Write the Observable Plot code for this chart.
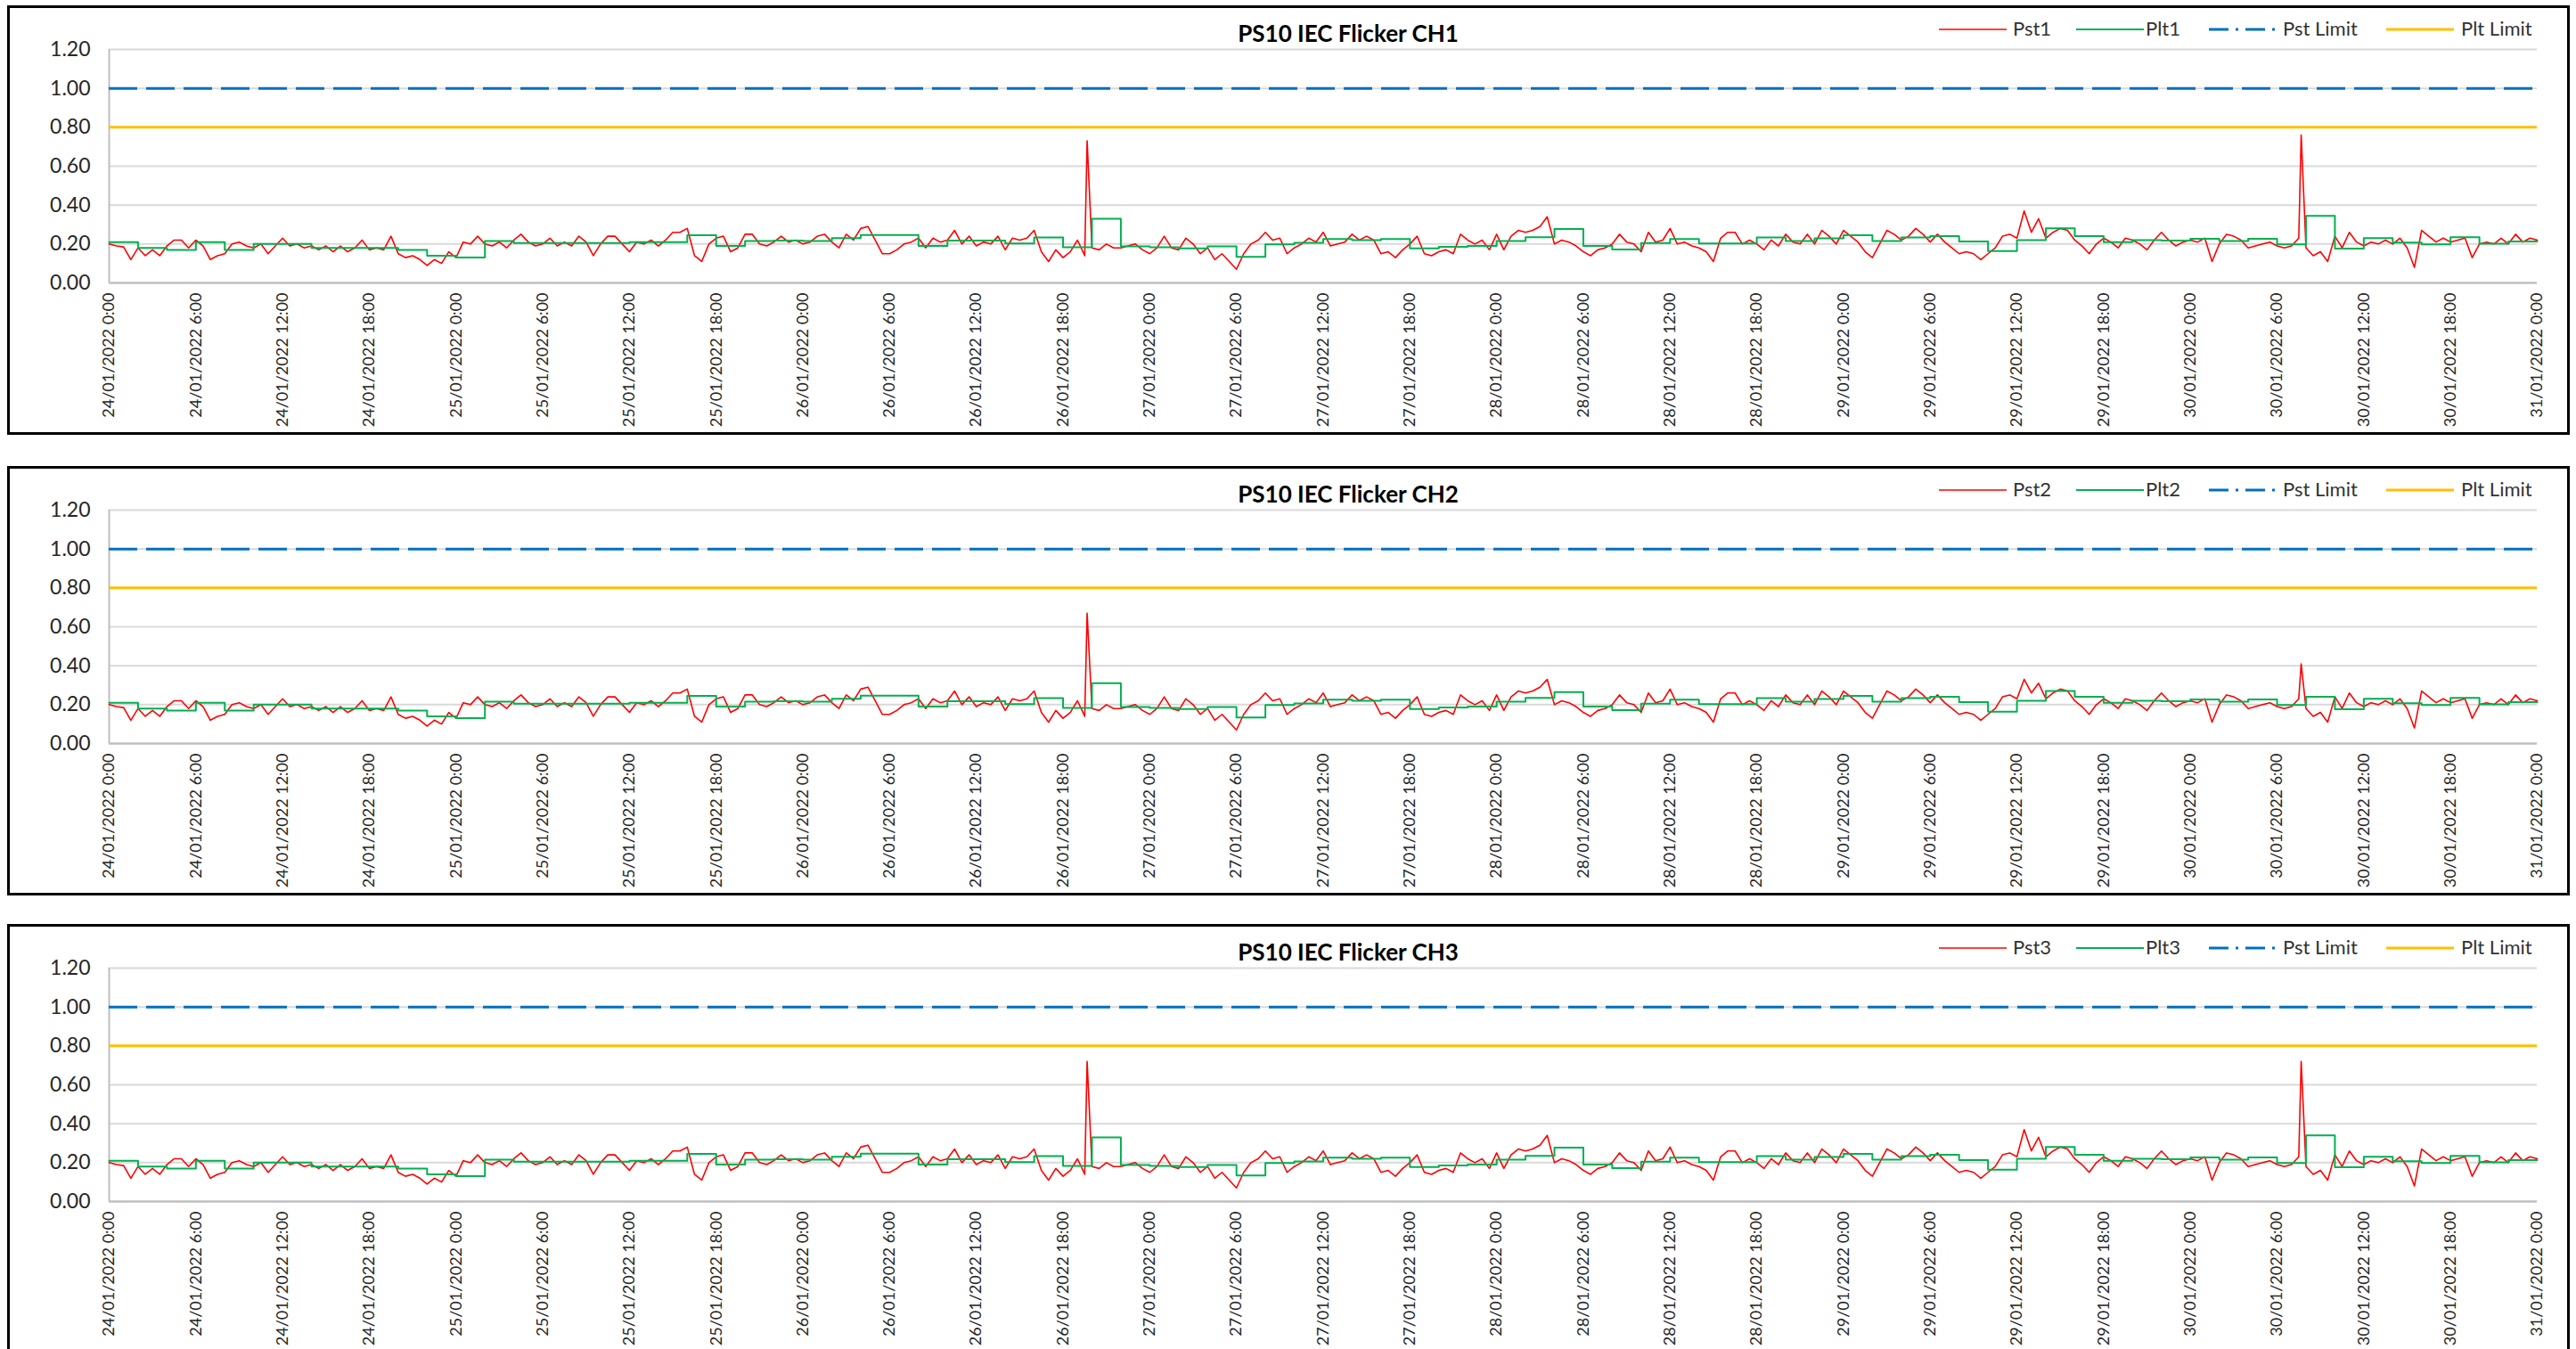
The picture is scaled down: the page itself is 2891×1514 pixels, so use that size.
<!DOCTYPE html>
<html>
<head>
<meta charset="utf-8">
<script src="https://cdn.jsdelivr.net/npm/d3@7"></script>
<script src="https://cdn.jsdelivr.net/npm/@observablehq/plot@0.6"></script>
<style>
  html, body { margin: 0; padding: 0; background: #fff; }
  body { width: 2891px; height: 1514px; overflow: hidden; position: relative; font-family: Lato, "Open Sans", sans-serif; }
  .frame { position: absolute; border: 3px solid #000; box-sizing: border-box; }
  .chart { position: absolute; left: 0; }
  .title { position: absolute; font-weight: 700; font-size: 26px; color: #000; transform: translateX(-50%); white-space: nowrap; }
  .leg { position: absolute; font-size: 22px; color: #333; white-space: nowrap; }
  .leg svg { position: absolute; }
</style>
</head>
<body>
<script>
// ---------------- DATA ----------------
const startTime = "2022-01-24T00:00Z";
const endTime = "2022-01-31T00:00Z";
const titles = ["PS10 IEC Flicker CH1", "PS10 IEC Flicker CH2", "PS10 IEC Flicker CH3"];
const seriesNames = [["Pst1", "Plt1"], ["Pst2", "Plt2"], ["Pst3", "Plt3"]];
const limitNames = ["Pst Limit", "Plt Limit"];
const pstLimit = 1.0;
const pltLimit = 0.8;
const yTicks = [0, 0.2, 0.4, 0.6, 0.8, 1.0, 1.2];

// Pst, 30-minute samples from 24/01/2022 0:00 to 31/01/2022 0:00
const pst1 = [
0.20,0.19,0.185,0.12,0.18,0.14,0.17,0.14,0.19,0.22,0.22,0.18,0.22,0.19,0.12,0.14,0.15,0.20,0.21,0.19,
0.18,0.20,0.15,0.19,0.23,0.19,0.20,0.18,0.19,0.17,0.19,0.16,0.19,0.16,0.18,0.22,0.17,0.18,0.17,0.24,
0.15,0.13,0.14,0.12,0.09,0.12,0.10,0.16,0.13,0.21,0.20,0.24,0.20,0.19,0.21,0.18,0.22,0.25,0.21,0.19,
0.20,0.23,0.19,0.21,0.19,0.24,0.21,0.14,0.20,0.24,0.24,0.20,0.16,0.21,0.20,0.22,0.19,0.22,0.26,0.26,
0.28,0.14,0.11,0.20,0.23,0.24,0.16,0.18,0.25,0.25,0.20,0.19,0.21,0.24,0.21,0.22,0.20,0.21,0.24,0.25,
0.21,0.18,0.25,0.22,0.28,0.29,0.22,0.15,0.15,0.17,0.20,0.21,0.23,0.18,0.23,0.21,0.22,0.27,0.20,0.24,
0.19,0.21,0.20,0.24,0.17,0.23,0.22,0.23,0.27,0.16,0.11,0.17,0.13,0.16,0.22,0.14,0.18,0.17,0.20,0.18,
0.18,0.19,0.20,0.17,0.15,0.18,0.24,0.18,0.17,0.23,0.20,0.15,0.18,0.12,0.15,0.11,0.07,0.15,0.20,0.22,
0.26,0.22,0.23,0.15,0.18,0.20,0.23,0.21,0.26,0.19,0.20,0.21,0.25,0.22,0.24,0.22,0.15,0.16,0.13,0.17,
0.20,0.24,0.15,0.14,0.16,0.17,0.15,0.25,0.22,0.20,0.22,0.17,0.25,0.17,0.24,0.27,0.26,0.27,0.29,0.34,
0.20,0.22,0.21,0.19,0.16,0.14,0.17,0.18,0.20,0.25,0.21,0.20,0.16,0.26,0.21,0.22,0.28,0.20,0.21,0.19,
0.18,0.16,0.11,0.23,0.26,0.26,0.20,0.22,0.20,0.17,0.22,0.19,0.25,0.21,0.20,0.25,0.20,0.27,0.24,0.20,
0.27,0.24,0.21,0.16,0.13,0.20,0.27,0.25,0.22,0.24,0.28,0.25,0.21,0.25,0.21,0.18,0.15,0.16,0.15,0.12,
0.15,0.18,0.24,0.25,0.23,0.37,0.26,0.33,0.23,0.26,0.28,0.27,0.22,0.19,0.15,0.20,0.23,0.21,0.18,0.23,
0.22,0.20,0.17,0.22,0.26,0.22,0.19,0.21,0.22,0.21,0.23,0.11,0.20,0.25,0.24,0.22,0.18,0.19,0.20,0.21,
0.19,0.18,0.19,0.23,0.18,0.14,0.16,0.11,0.24,0.18,0.26,0.21,0.19,0.21,0.20,0.22,0.20,0.23,0.18,0.08,
0.27,0.24,0.21,0.23,0.21,0.22,0.23,0.13,0.20,0.21,0.20,0.23,0.20,0.25,0.21,0.23,0.22
];
const pst2 = [
0.20,0.19,0.185,0.12,0.18,0.14,0.17,0.14,0.19,0.22,0.22,0.18,0.22,0.19,0.12,0.14,0.15,0.20,0.21,0.19,
0.18,0.20,0.15,0.19,0.23,0.19,0.20,0.18,0.19,0.17,0.19,0.16,0.19,0.16,0.18,0.22,0.17,0.18,0.17,0.24,
0.15,0.13,0.14,0.12,0.09,0.12,0.10,0.16,0.13,0.21,0.20,0.24,0.20,0.19,0.21,0.18,0.22,0.25,0.21,0.19,
0.20,0.23,0.19,0.21,0.19,0.24,0.21,0.14,0.20,0.24,0.24,0.20,0.16,0.21,0.20,0.22,0.19,0.22,0.26,0.26,
0.28,0.14,0.11,0.20,0.23,0.24,0.16,0.18,0.25,0.25,0.20,0.19,0.21,0.24,0.21,0.22,0.20,0.21,0.24,0.25,
0.21,0.18,0.25,0.22,0.28,0.29,0.22,0.15,0.15,0.17,0.20,0.21,0.23,0.18,0.23,0.21,0.22,0.27,0.20,0.24,
0.19,0.21,0.20,0.24,0.17,0.23,0.22,0.23,0.27,0.16,0.11,0.17,0.13,0.16,0.22,0.14,0.18,0.17,0.20,0.18,
0.18,0.19,0.20,0.17,0.15,0.18,0.24,0.18,0.17,0.23,0.20,0.15,0.18,0.12,0.15,0.11,0.07,0.15,0.20,0.22,
0.26,0.22,0.23,0.15,0.18,0.20,0.23,0.21,0.26,0.19,0.20,0.21,0.25,0.22,0.24,0.22,0.15,0.16,0.13,0.17,
0.20,0.24,0.15,0.14,0.16,0.17,0.15,0.25,0.22,0.20,0.22,0.17,0.25,0.17,0.24,0.27,0.26,0.27,0.29,0.33,
0.20,0.22,0.21,0.19,0.16,0.14,0.17,0.18,0.20,0.25,0.21,0.20,0.16,0.26,0.21,0.22,0.28,0.20,0.21,0.19,
0.18,0.16,0.11,0.23,0.26,0.26,0.20,0.22,0.20,0.17,0.22,0.19,0.25,0.21,0.20,0.25,0.20,0.27,0.24,0.20,
0.27,0.24,0.21,0.16,0.13,0.20,0.27,0.25,0.22,0.24,0.28,0.25,0.21,0.25,0.21,0.18,0.15,0.16,0.15,0.12,
0.15,0.18,0.24,0.25,0.23,0.33,0.26,0.31,0.23,0.26,0.28,0.27,0.22,0.19,0.15,0.20,0.23,0.21,0.18,0.23,
0.22,0.20,0.17,0.22,0.26,0.22,0.19,0.21,0.22,0.21,0.23,0.11,0.20,0.25,0.24,0.22,0.18,0.19,0.20,0.21,
0.19,0.18,0.19,0.23,0.18,0.14,0.16,0.11,0.24,0.18,0.26,0.21,0.19,0.21,0.20,0.22,0.20,0.23,0.18,0.08,
0.27,0.24,0.21,0.23,0.21,0.22,0.23,0.13,0.20,0.21,0.20,0.23,0.20,0.25,0.21,0.23,0.22
];
const pst3 = [
0.20,0.19,0.185,0.12,0.18,0.14,0.17,0.14,0.19,0.22,0.22,0.18,0.22,0.19,0.12,0.14,0.15,0.20,0.21,0.19,
0.18,0.20,0.15,0.19,0.23,0.19,0.20,0.18,0.19,0.17,0.19,0.16,0.19,0.16,0.18,0.22,0.17,0.18,0.17,0.24,
0.15,0.13,0.14,0.12,0.09,0.12,0.10,0.16,0.13,0.21,0.20,0.24,0.20,0.19,0.21,0.18,0.22,0.25,0.21,0.19,
0.20,0.23,0.19,0.21,0.19,0.24,0.21,0.14,0.20,0.24,0.24,0.20,0.16,0.21,0.20,0.22,0.19,0.22,0.26,0.26,
0.28,0.14,0.11,0.20,0.23,0.24,0.16,0.18,0.25,0.25,0.20,0.19,0.21,0.24,0.21,0.22,0.20,0.21,0.24,0.25,
0.21,0.18,0.25,0.22,0.28,0.29,0.22,0.15,0.15,0.17,0.20,0.21,0.23,0.18,0.23,0.21,0.22,0.27,0.20,0.24,
0.19,0.21,0.20,0.24,0.17,0.23,0.22,0.23,0.27,0.16,0.11,0.17,0.13,0.16,0.22,0.14,0.18,0.17,0.20,0.18,
0.18,0.19,0.20,0.17,0.15,0.18,0.24,0.18,0.17,0.23,0.20,0.15,0.18,0.12,0.15,0.11,0.07,0.15,0.20,0.22,
0.26,0.22,0.23,0.15,0.18,0.20,0.23,0.21,0.26,0.19,0.20,0.21,0.25,0.22,0.24,0.22,0.15,0.16,0.13,0.17,
0.20,0.24,0.15,0.14,0.16,0.17,0.15,0.25,0.22,0.20,0.22,0.17,0.25,0.17,0.24,0.27,0.26,0.27,0.29,0.34,
0.20,0.22,0.21,0.19,0.16,0.14,0.17,0.18,0.20,0.25,0.21,0.20,0.16,0.26,0.21,0.22,0.28,0.20,0.21,0.19,
0.18,0.16,0.11,0.23,0.26,0.26,0.20,0.22,0.20,0.17,0.22,0.19,0.25,0.21,0.20,0.25,0.20,0.27,0.24,0.20,
0.27,0.24,0.21,0.16,0.13,0.20,0.27,0.25,0.22,0.24,0.28,0.25,0.21,0.25,0.21,0.18,0.15,0.16,0.15,0.12,
0.15,0.18,0.24,0.25,0.23,0.37,0.26,0.33,0.23,0.26,0.28,0.27,0.22,0.19,0.15,0.20,0.23,0.21,0.18,0.23,
0.22,0.20,0.17,0.22,0.26,0.22,0.19,0.21,0.22,0.21,0.23,0.11,0.20,0.25,0.24,0.22,0.18,0.19,0.20,0.21,
0.19,0.18,0.19,0.23,0.18,0.14,0.16,0.11,0.24,0.18,0.26,0.21,0.19,0.21,0.20,0.22,0.20,0.23,0.18,0.08,
0.27,0.24,0.21,0.23,0.21,0.22,0.23,0.13,0.20,0.21,0.20,0.23,0.20,0.25,0.21,0.23,0.22
];
// Short Pst spikes (10-minute readings between the 30-minute samples)
const pst1Spikes = [["2022-01-26T19:40Z", 0.73], ["2022-01-30T07:40Z", 0.76]];
const pst2Spikes = [["2022-01-26T19:40Z", 0.67], ["2022-01-30T07:40Z", 0.41]];
const pst3Spikes = [["2022-01-26T19:40Z", 0.72], ["2022-01-30T07:40Z", 0.72]];

// Plt, 2-hour values from 24/01/2022 0:00
const plt1 = [
0.21,0.18,0.17,0.21,0.17,0.20,0.20,0.18,0.18,0.18,
0.17,0.14,0.13,0.215,0.205,0.205,0.205,0.205,0.21,0.21,
0.245,0.19,0.215,0.218,0.215,0.23,0.246,0.246,0.19,0.218,
0.218,0.203,0.234,0.183,0.33,0.188,0.183,0.178,0.188,0.134,
0.198,0.206,0.226,0.22,0.226,0.177,0.186,0.19,0.215,0.235,
0.277,0.19,0.172,0.205,0.226,0.203,0.203,0.234,0.215,0.229,
0.245,0.215,0.234,0.24,0.213,0.164,0.22,0.28,0.24,0.209,
0.22,0.218,0.227,0.215,0.227,0.198,0.345,0.176,0.23,0.207,
0.198,0.235,0.202,0.213
];
const plt2 = [
0.21,0.18,0.17,0.21,0.17,0.20,0.20,0.18,0.18,0.18,
0.17,0.14,0.13,0.215,0.205,0.205,0.205,0.205,0.21,0.21,
0.245,0.19,0.215,0.218,0.215,0.23,0.246,0.246,0.19,0.218,
0.218,0.203,0.234,0.183,0.31,0.188,0.183,0.178,0.188,0.134,
0.198,0.206,0.226,0.22,0.226,0.177,0.186,0.19,0.215,0.235,
0.265,0.19,0.172,0.205,0.226,0.203,0.203,0.234,0.215,0.229,
0.245,0.215,0.234,0.24,0.213,0.164,0.22,0.27,0.24,0.209,
0.22,0.218,0.227,0.215,0.227,0.198,0.24,0.176,0.23,0.207,
0.198,0.235,0.202,0.213
];
const plt3 = [
0.21,0.18,0.17,0.21,0.17,0.20,0.20,0.18,0.18,0.18,
0.17,0.14,0.13,0.215,0.205,0.205,0.205,0.205,0.21,0.21,
0.245,0.19,0.215,0.218,0.215,0.23,0.246,0.246,0.19,0.218,
0.218,0.203,0.234,0.183,0.33,0.188,0.183,0.178,0.188,0.134,
0.198,0.206,0.226,0.22,0.226,0.177,0.186,0.19,0.215,0.235,
0.277,0.19,0.172,0.205,0.226,0.203,0.203,0.234,0.215,0.229,
0.245,0.215,0.234,0.24,0.213,0.164,0.22,0.28,0.24,0.209,
0.22,0.218,0.227,0.215,0.227,0.198,0.34,0.176,0.23,0.207,
0.198,0.235,0.202,0.213
];

// ---------------- DRAWING ----------------
const t0 = new Date(startTime), t1 = new Date(endTime);
const fmt = d3.utcFormat("%d/%m/%Y %-H:%M");
const xTicks = d3.utcHour.every(6).range(t0, new Date(+t1 + 1));

const colors = { pst: "#ff0000", plt: "#00b050", pstLim: "#0070c0", pltLim: "#ffc000" };
const panelTops = [7, 524, 1038];
const panels = [
  { pst: pst1, spikes: pst1Spikes, plt: plt1 },
  { pst: pst2, spikes: pst2Spikes, plt: plt2 },
  { pst: pst3, spikes: pst3Spikes, plt: plt3 }
];

function buildPst(vals, spikes) {
  const rows = vals.map((v, k) => ({ t: d3.utcMinute.offset(t0, 30 * k), v }));
  spikes.forEach(([s, v]) => rows.push({ t: new Date(s), v }));
  return rows.sort((a, b) => a.t - b.t);
}
function buildPlt(vals) {
  const rows = vals.map((v, k) => ({ t: d3.utcHour.offset(t0, 2 * k), v }));
  rows.push({ t: t1, v: vals[vals.length - 1] });
  return rows;
}

panels.forEach((p, i) => {
  const top = panelTops[i];
  const frame = document.createElement("div");
  frame.className = "frame";
  Object.assign(frame.style, { left: "8px", top: (top - 1) + "px", width: "2876px", height: "482px" });
  document.body.appendChild(frame);

  const chart = Plot.plot({
    width: 2891, height: 480,
    marginLeft: 122, marginRight: 44, marginTop: 48, marginBottom: 170,
    style: { fontFamily: "Lato, sans-serif", color: "#262626", background: "transparent", overflow: "visible" },
    x: { type: "utc", domain: [t0, t1] },
    y: { domain: [0, 1.2] },
    marks: [
      Plot.ruleY(yTicks.filter(d => d > 0), { stroke: "#d9d9d9", strokeWidth: 2 }),
      Plot.ruleX([t0], { stroke: "#bfbfbf", strokeWidth: 2 }),
      Plot.ruleY([0], { stroke: "#bfbfbf", strokeWidth: 2.5 }),
      Plot.axisY(yTicks, { tickFormat: d3.format(".2f"), tickSize: 0, tickPadding: 21, fontSize: 23, label: null }),
      Plot.axisX(xTicks, { tickFormat: fmt, tickRotate: -90, tickSize: 0, tickPadding: 11, fontSize: 18, label: null }),
      Plot.line(buildPst(p.pst, p.spikes), { x: "t", y: "v", stroke: colors.pst, strokeWidth: 1.6 }),
      Plot.line(buildPlt(p.plt), { x: "t", y: "v", stroke: colors.plt, strokeWidth: 2, curve: "step-after" }),
      Plot.ruleY([pstLimit], { stroke: colors.pstLim, strokeWidth: 3, strokeDasharray: "32,10" }),
      Plot.ruleY([pltLimit], { stroke: colors.pltLim, strokeWidth: 3 })
    ]
  });
  chart.classList.add("chart");
  chart.style.top = top + "px";
  document.body.appendChild(chart);

  const title = document.createElement("div");
  title.className = "title";
  title.textContent = titles[i];
  Object.assign(title.style, { left: "1513px", top: (top + 14) + "px" });
  document.body.appendChild(title);

  const items = [
    { name: seriesNames[i][0], color: colors.pst, w: 1.6, dash: null, x: 2176, tx: 2259 },
    { name: seriesNames[i][1], color: colors.plt, w: 2, dash: null, x: 2330, tx: 2408 },
    { name: limitNames[0], color: colors.pstLim, w: 3, dash: "22,8,3,8", x: 2479, tx: 2562 },
    { name: limitNames[1], color: colors.pltLim, w: 3, dash: null, x: 2678, tx: 2762 }
  ];
  items.forEach(it => {
    const sw = document.createElementNS("http://www.w3.org/2000/svg", "svg");
    sw.setAttribute("width", 76); sw.setAttribute("height", 10);
    sw.style.position = "absolute";
    sw.style.left = it.x + "px"; sw.style.top = (top + 21) + "px";
    const ln = document.createElementNS("http://www.w3.org/2000/svg", "line");
    ln.setAttribute("x1", 0); ln.setAttribute("x2", 76); ln.setAttribute("y1", 5); ln.setAttribute("y2", 5);
    ln.setAttribute("stroke", it.color); ln.setAttribute("stroke-width", it.w);
    if (it.dash) ln.setAttribute("stroke-dasharray", it.dash);
    sw.appendChild(ln);
    document.body.appendChild(sw);
    const lab = document.createElement("div");
    lab.className = "leg";
    lab.textContent = it.name;
    Object.assign(lab.style, { left: it.tx + "px", top: (top + 11) + "px" });
    document.body.appendChild(lab);
  });
});
</script>
</body>
</html>
